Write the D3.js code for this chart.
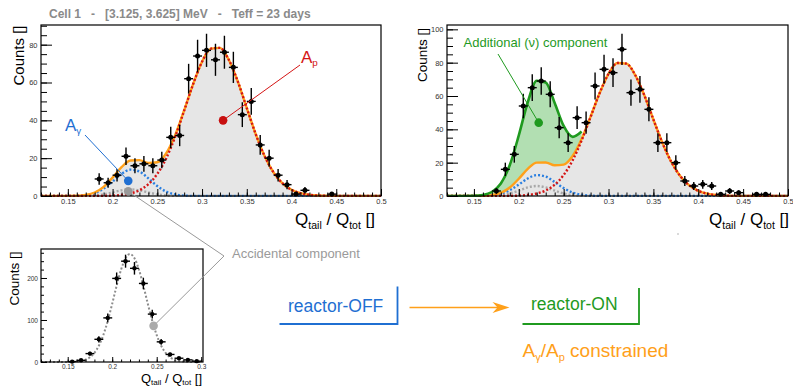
<!DOCTYPE html>
<html><head><meta charset="utf-8">
<script src="https://cdn.jsdelivr.net/npm/d3@7"></script>
<style>
body{margin:0;background:#fff;}
svg{display:block;}
text{font-family:"Liberation Sans",Arial,sans-serif;}
</style></head><body>
<svg id="c" width="793" height="389"></svg>
<script>
// ---------------- data ----------------
// Panel 1 : reactor-OFF, histogram (bin centres / counts)
const off_x = [0.185,0.195,0.205,0.215,0.225,0.235,0.245,0.255,0.265,0.275,0.285,0.295,0.305,0.315,0.325,0.335,0.345,0.355,0.365,0.375,0.385,0.395,0.405,0.415,0.445];
const off_y = [9,7,11,21,16,17,16,19,31,32,62,74,77,72,76,68,43,50,27,20,11,6,1,3,1];
// Panel 2 : reactor-ON
const on_x = [0.175,0.185,0.195,0.205,0.215,0.225,0.235,0.245,0.255,0.265,0.275,0.285,0.295,0.305,0.315,0.325,0.335,0.345,0.355,0.365,0.375,0.385,0.395,0.405,0.415,0.425,0.435,0.445,0.465,0.475];
const on_y = [3,16,25,54,65,69,61,41,32,47,44,66,76,74,88,62,64,52,32,32,20,9,6,7,6,1,3,2,1,1];
// Panel 3 : accidental sample
const acc_x = [0.155,0.165,0.175,0.185,0.195,0.205,0.215,0.225,0.235,0.245,0.255,0.265,0.275,0.285,0.295];
const acc_y = [1,4,20,54,105,199,240,223,187,114,48,18,9,5,2];

// fitted curves on a 0.01 grid
const fitX = [0.12,0.13,0.14,0.15,0.16,0.17,0.18,0.19,0.20,0.21,0.22,0.23,0.24,0.25,0.26,0.27,0.28,0.29,0.30,0.31,0.32,0.33,0.34,0.35,0.36,0.37,0.38,0.39,0.40,0.41,0.42,0.43,0.44,0.45,0.46,0.47,0.48,0.49,0.50];
const off_proton = [0,0,0,0,0,0,0.01,0.07,0.21,0.55,1.36,3.04,6.23,11.7,20.0,31.4,45.1,59.1,71.0,77.9,78.3,71.9,60.5,46.5,32.7,21.0,12.4,6.66,3.28,1.48,0.61,0.23,0.08,0.02,0,0,0,0,0];
const off_gamma  = [0,0,0,0.02,0.11,0.48,1.54,3.89,7.64,11.7,13.93,12.9,9.34,5.25,2.30,0.79,0.21,0.04,0,0,0,0,0,0,0,0,0,0,0,0,0,0,0,0,0,0,0,0,0];
const off_accid  = [0,0,0,0,0.01,0.07,0.30,0.87,1.89,3.0,3.5,3.0,1.89,0.87,0.30,0.07,0.01,0,0,0,0,0,0,0,0,0,0,0,0,0,0,0,0,0,0,0,0,0,0];
const on_proton  = [0,0,0,0,0,0,0.01,0.08,0.23,0.62,1.51,3.34,6.79,12.6,21.4,33.3,47.4,61.6,73.3,79.8,79.4,72.3,60.3,45.9,32.0,20.4,11.9,6.35,3.10,1.38,0.56,0.21,0.07,0.02,0,0,0,0,0];
const on_gamma   = [0,0,0,0.02,0.09,0.43,1.39,3.5,6.88,10.5,12.54,11.63,8.4,4.73,2.07,0.71,0.19,0.04,0,0,0,0,0,0,0,0,0,0,0,0,0,0,0,0,0,0,0,0,0];
const on_accid   = [0,0,0,0,0.02,0.13,0.51,1.50,3.24,5.14,6.0,5.14,3.24,1.50,0.51,0.13,0.02,0,0,0,0,0,0,0,0,0,0,0,0,0,0,0,0,0,0,0,0,0,0];
const on_nu      = [0,0,0.02,0.10,0.48,1.83,5.57,13.5,26.0,40.0,49.1,48.0,37.4,23.2,11.5,4.54]; // up to 0.27
// accidental fit, 0.005 grid
const accFitX = [0.12,0.125,0.13,0.135,0.14,0.145,0.15,0.155,0.16,0.165,0.17,0.175,0.18,0.185,0.19,0.195,0.20,0.205,0.21,0.215,0.22,0.225,0.23,0.235,0.24,0.245,0.25,0.255,0.26,0.265,0.27,0.275,0.28,0.285,0.29,0.295,0.30];
const accFitY = [0,0,0,0,0,0.05,0.13,0.39,1.0,2.4,5.4,11.3,21.8,38.8,64.1,97.9,138.6,181.7,220.2,247.2,257,247.2,220.2,181.7,138.6,97.9,64.1,38.8,21.8,11.3,5.4,2.4,1.0,0.39,0.13,0.05,0];

// axis ticks
const xMajor = [0.15,0.2,0.25,0.3,0.35,0.4,0.45,0.5];
const xMajor3 = [0.15,0.2,0.25,0.3];
const yMajor1 = [0,20,40,60,80];
const yMajor2 = [0,20,40,60,80,100];
const yMajor3 = [0,100,200];

// ---------------- colours ----------------
const BLUE = "#1f6fd2", RED = "#d41515", GREEN = "#1f9a1f", ORANGE = "#ffa01a", GREY = "#9a9a9a";

const svg = d3.select("#c");

function panel(id, f, xDom, yDom) {
  const x = d3.scaleLinear().domain(xDom).range([f.x0, f.x1]);
  const y = d3.scaleLinear().domain(yDom).range([f.y1, f.y0]);
  svg.append("clipPath").attr("id", id).append("rect")
    .attr("x", f.x0).attr("y", f.y0 - 1).attr("width", f.x1 - f.x0).attr("height", f.y1 - f.y0 + 2);
  const g = svg.append("g");
  const plot = g.append("g").attr("clip-path", `url(#${id})`);
  return {x, y, f, g, plot};
}

function axes(p, o) {
  const {x, y, f, g} = p;
  const xMinor = d3.range(Math.ceil(x.domain()[0] * 100 - 1e-6), Math.floor(x.domain()[1] * 100 + 1e-6) + 1).map(d => d / 100);
  const yMinor = d3.range(0, y.domain()[1], o.yMinorStep);
  const bMin = g.append("g").attr("transform", `translate(0,${f.y1})`)
    .call(d3.axisBottom(x).tickValues(xMinor).tickSizeInner(-o.xt[1]).tickSizeOuter(0).tickFormat(""));
  const bMaj = g.append("g").attr("transform", `translate(0,${f.y1})`)
    .call(d3.axisBottom(x).tickValues(o.xTicks).tickSizeInner(-o.xt[0]).tickSizeOuter(0).tickPadding(o.xPad).tickFormat(d => String(d)));
  const lMin = g.append("g").attr("transform", `translate(${f.x0},0)`)
    .call(d3.axisLeft(y).tickValues(yMinor).tickSizeInner(-o.yt[1]).tickSizeOuter(0).tickFormat(""));
  const lMaj = g.append("g").attr("transform", `translate(${f.x0},0)`)
    .call(d3.axisLeft(y).tickValues(o.yTicks).tickSizeInner(-o.yt[0]).tickSizeOuter(0).tickPadding(o.yPad).tickFormat(d => String(d)));
  [bMin, bMaj, lMin, lMaj].forEach(a => {
    a.select(".domain").remove();
    a.attr("font-family", "Liberation Sans, Arial, sans-serif").attr("font-size", o.fs);
    a.selectAll("line").attr("stroke", "#000").attr("stroke-width", 1);
    a.selectAll("text").attr("fill", "#333");
  });
  g.append("rect").attr("x", f.x0).attr("y", f.y0).attr("width", f.x1 - f.x0).attr("height", f.y1 - f.y0)
    .attr("fill", "none").attr("stroke", "#000").attr("stroke-width", 1.2);
}

function curve(p, xs, ys, color, w, dash) {
  const line = d3.line().x((d, i) => p.x(xs[i])).y(d => p.y(d)).curve(d3.curveMonotoneX);
  const path = p.plot.append("path").attr("d", line(ys)).attr("fill", "none")
    .attr("stroke", color).attr("stroke-width", w);
  if (dash) path.attr("stroke-dasharray", dash);
  return path;
}
function area(p, xs, lo, hi, color) {
  const a = d3.area().x((d, i) => p.x(xs[i])).y0((d, i) => p.y(lo[i])).y1(d => p.y(d)).curve(d3.curveMonotoneX);
  p.plot.append("path").attr("d", a(hi)).attr("fill", color).attr("stroke", "none");
}
function points(p, xs, ys, r, hw) {
  const gg = p.g.append("g");
  const data = xs.map((d, i) => ({x: d, y: ys[i], e: Math.sqrt(ys[i])}));
  gg.selectAll("line.v").data(data).join("line").attr("class", "v")
    .attr("x1", d => p.x(d.x)).attr("x2", d => p.x(d.x))
    .attr("y1", d => p.y(d.y - d.e)).attr("y2", d => p.y(d.y + d.e))
    .attr("stroke", "#000").attr("stroke-width", 1.4);
  gg.selectAll("line.h").data(data).join("line").attr("class", "h")
    .attr("x1", d => p.x(d.x - hw)).attr("x2", d => p.x(d.x + hw))
    .attr("y1", d => p.y(d.y)).attr("y2", d => p.y(d.y))
    .attr("stroke", "#000").attr("stroke-width", 1.4);
  gg.selectAll("circle").data(data).join("circle")
    .attr("cx", d => p.x(d.x)).attr("cy", d => p.y(d.y)).attr("r", r).attr("fill", "#000");
}
function qLabel(xEnd, yBase, fs, sub, shift) {
  const t = svg.append("text").attr("x", xEnd).attr("y", yBase).attr("text-anchor", "end")
    .attr("font-size", fs).attr("fill", "#000").style("white-space", "pre");
  t.append("tspan").text("Q");
  t.append("tspan").attr("font-size", sub).attr("dy", shift).text("tail");
  t.append("tspan").attr("dy", -shift).text(" / Q");
  t.append("tspan").attr("font-size", sub).attr("dy", shift).text("tot");
  t.append("tspan").attr("dy", -shift).text(" []");
}
function countsLabel(xBase, yEnd, fs) {
  svg.append("text").attr("transform", `translate(${xBase},${yEnd}) rotate(-90)`)
    .attr("text-anchor", "end").attr("font-size", fs).attr("fill", "#000").text("Counts []");
}

// ---------------- panel 1 : reactor-OFF ----------------
const p1 = panel("clip1", {x0: 41, x1: 381, y0: 25, y1: 196}, [0.12, 0.5], [0, 90.4]);
const off_total = fitX.map((d, i) => off_proton[i] + off_gamma[i] + off_accid[i]);
const zeros = fitX.map(() => 0);
area(p1, fitX, zeros, off_total, "#e6e6e6");
axes(p1, {xTicks: xMajor, yTicks: yMajor1, yMinorStep: 5, xt: [7, 3.5], yt: [11, 6], xPad: 3, yPad: 3.5, fs: 7.5});
curve(p1, fitX, off_accid, "#a8a8a8", 2.4, "2,2");
curve(p1, fitX, off_gamma, "#2a7fe0", 2.4, "2,2");
curve(p1, fitX, off_total, ORANGE, 2.4);
curve(p1, fitX, off_proton, RED, 2.4, "2,2");
points(p1, off_x, off_y, 2.5, 0.005);

// ---------------- panel 2 : reactor-ON ----------------
const p2 = panel("clip2", {x0: 447, x1: 788, y0: 25, y1: 196}, [0.12, 0.5], [0, 102.6]);
const on_total = fitX.map((d, i) => on_proton[i] + on_gamma[i] + on_accid[i]);
const nuX = fitX.slice(0, on_nu.length);
const on_green = on_nu.map((d, i) => d + on_total[i]);
area(p2, fitX, zeros, on_total, "#e6e6e6");
area(p2, nuX, on_total.slice(0, on_nu.length), on_green, "#b2dfb2");
axes(p2, {xTicks: xMajor, yTicks: yMajor2, yMinorStep: 5, xt: [7, 3.5], yt: [11, 6], xPad: 3, yPad: 3.5, fs: 7.5});
curve(p2, fitX, on_accid, "#a8a8a8", 2.4, "2,2");
curve(p2, fitX, on_gamma, "#2a7fe0", 2.4, "2,2");
curve(p2, fitX, on_total, ORANGE, 2.4);
curve(p2, fitX, on_proton, RED, 2.4, "2,2");
curve(p2, nuX, on_green, GREEN, 2.6);
points(p2, on_x, on_y, 2.5, 0.005);

// ---------------- panel 3 : accidentals ----------------
const p3 = panel("clip3", {x0: 41, x1: 203, y0: 249, y1: 362}, [0.12, 0.302], [0, 269]);
axes(p3, {xTicks: xMajor3, yTicks: yMajor3, yMinorStep: 20, xt: [5, 2.5], yt: [6, 3], xPad: 2, yPad: 3, fs: 6.5});
curve(p3, accFitX, accFitY, "#8c8c8c", 2, "2,2");
points(p3, acc_x, acc_y, 2.2, 0.005);

// ---------------- titles ----------------
svg.append("text").attr("x", 49).attr("y", 18.3).style("white-space", "pre")
  .attr("font-family", "DejaVu Sans").attr("font-weight", "bold").attr("font-size", 12).attr("fill", "#8a8a8a")
  .text("Cell 1   -   [3.125, 3.625] MeV   -   Teff = 23 days");
qLabel(375, 225, 17, 10.5, 4.2);
qLabel(789, 225, 17, 10.5, 4.2);
qLabel(202, 382.5, 13, 8, 2.3);
countsLabel(23.5, 25.5, 15);
countsLabel(426.5, 28, 13.5);
countsLabel(18.5, 251.5, 13.5);

// ---------------- annotations ----------------
const blueDot = [p1.x(0.2175), p1.y(8)];
const greyDot1 = [p1.x(0.2175), p1.y(2.5)];
const redDot = [p1.x(0.3235), p1.y(40)];
const greenDot = [p2.x(0.2222), p2.y(44)];
const greyDot3 = [p3.x(0.2465), p3.y(86)];
const vertex = [224, 256];

svg.append("line").attr("x1", 85).attr("y1", 135).attr("x2", blueDot[0]).attr("y2", blueDot[1]).attr("stroke", BLUE).attr("stroke-width", 1);
svg.append("line").attr("x1", 300).attr("y1", 65).attr("x2", redDot[0]).attr("y2", redDot[1]).attr("stroke", RED).attr("stroke-width", 1);
svg.append("line").attr("x1", 498).attr("y1", 54).attr("x2", greenDot[0]).attr("y2", greenDot[1]).attr("stroke", GREEN).attr("stroke-width", 1);
svg.append("polyline").attr("points", [greyDot1, vertex, greyDot3].map(d => d.join(",")).join(" "))
  .attr("fill", "none").attr("stroke", GREY).attr("stroke-width", 1);

[[blueDot, BLUE], [greyDot1, "#999"], [redDot, "#c81010"], [greenDot, GREEN], [greyDot3, "#aaa"]].forEach(([c, col]) => {
  svg.append("circle").attr("cx", c[0]).attr("cy", c[1]).attr("r", 4.3).attr("fill", col);
});

function subText(x, y, fs, color, parts) {
  const t = svg.append("text").attr("x", x).attr("y", y).attr("font-size", fs).attr("fill", color).style("white-space", "pre");
  let shifted = false;
  parts.forEach(([s, sub]) => {
    const ts = t.append("tspan").text(s);
    if (sub) { ts.attr("font-size", fs * 0.58).attr("dy", fs * 0.2); shifted = true; }
    else if (shifted) { ts.attr("dy", -fs * 0.2); shifted = false; }
  });
  return t;
}
subText(65, 131, 17, BLUE, [["A"], ["γ", true]]);
subText(301, 63, 17, RED, [["A"], ["p", true]]);
svg.append("text").attr("x", 463.5).attr("y", 46.5).attr("font-size", 13).attr("fill", GREEN).text("Additional (ν) component");
svg.append("text").attr("x", 232).attr("y", 258).attr("font-size", 13).attr("fill", GREY).text("Accidental component");

// reactor-OFF / ON boxes
svg.append("text").attr("x", 288).attr("y", 311.5).attr("font-size", 17.5).attr("fill", BLUE).text("reactor-OFF");
svg.append("polyline").attr("points", "279.5,324 397.5,324 397.5,286.5").attr("fill", "none").attr("stroke", BLUE).attr("stroke-width", 1.8);
svg.append("text").attr("x", 531).attr("y", 310).attr("font-size", 17.5).attr("fill", GREEN).text("reactor-ON");
svg.append("polyline").attr("points", "522.5,324 639,324 639,288").attr("fill", "none").attr("stroke", GREEN).attr("stroke-width", 1.8);
// arrow
svg.append("line").attr("x1", 409.5).attr("y1", 307.5).attr("x2", 498).attr("y2", 307.5).attr("stroke", ORANGE).attr("stroke-width", 1.5);
svg.append("polygon").attr("points", "509.5,307.5 492.5,302 497.5,307.5 492.5,313").attr("fill", ORANGE);
subText(522.5, 357, 19, ORANGE, [["A"], ["γ", true], ["/A"], ["p", true], [" constrained"]]);
svg.append("circle").attr("cx", 678).attr("cy", 234).attr("r", 0.7).attr("fill", "#999");
</script>
</body></html>
